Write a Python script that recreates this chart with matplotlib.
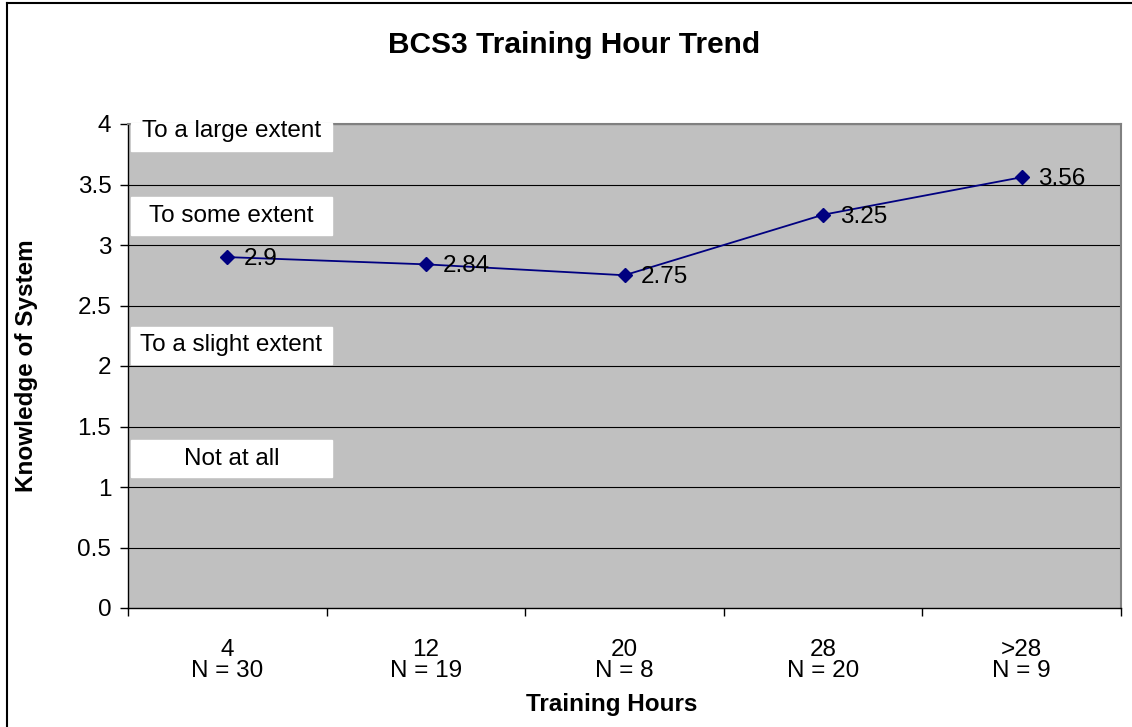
import matplotlib.pyplot as plt
import numpy as np

plt.rcParams['font.family'] = ['Liberation Sans', 'DejaVu Sans']

# Data
hours = ['4', '12', '20', '28', '>28']
counts = [30, 19, 8, 20, 9]
knowledge = [2.9, 2.84, 2.75, 3.25, 3.56]
scale_labels = ['To a large extent', 'To some extent', 'To a slight extent', 'Not at all']
scale_boxes = [(3.78, 4.1), (3.08, 3.40), (2.02, 2.32), (1.08, 1.39)]

W, H = 1132, 727
fs = 17.5
fig = plt.figure(figsize=(W / 100, H / 100), dpi=100)
ax = fig.add_axes([128 / W, 1 - 608 / H, (1121 - 128) / W, (608 - 124) / H])

x = np.arange(len(hours))
ax.set_facecolor('#c0c0c0')
ax.set_xlim(-0.5, len(hours) - 0.5)
ax.set_ylim(0, 4)

# grid
for yv in np.arange(0.5, 4.01, 0.5):
    ax.axhline(yv, color='#000000', lw=0.8, zorder=1)

# scale boxes (drawn over the top spine, like the original)
for lab, (y0, y1) in zip(scale_labels, scale_boxes):
    y1 = min(y1, 4.01)
    ax.axhspan(y0, y1, xmin=0.003, xmax=0.205, color='white', zorder=2.6, clip_on=False)
    ax.text(0.104, (y0 + max(y1, 4.1 if y1 > 4 else y1)) / 2, lab,
            transform=ax.get_yaxis_transform(),
            ha='center', va='center', fontsize=fs, zorder=3)

ax.plot(x, knowledge, color='#000080', lw=1.3, marker='D', markersize=7.5, zorder=4)
for xi, v in zip(x, knowledge):
    ax.annotate(str(v), (xi, v), xytext=(12, -1.5), textcoords='offset points',
                ha='left', va='center', fontsize=fs, zorder=5)

ax.set_yticks(np.arange(0, 4.01, 0.5))
ax.set_yticklabels(['0', '0.5', '1', '1.5', '2', '2.5', '3', '3.5', '4'], fontsize=fs)
ax.set_xticks(np.arange(-0.5, len(hours), 1.0))
ax.set_xticklabels([])
ax.set_xticks(x, minor=True)
ax.set_xticklabels([f'{h}\nN = {n}' for h, n in zip(hours, counts)], minor=True, fontsize=fs,
                   linespacing=0.95)
ax.tick_params(axis='x', which='major', direction='out', length=6, width=1, color='black')
ax.tick_params(axis='x', which='minor', length=0, pad=22)
ax.tick_params(axis='y', direction='out', length=6, width=1, pad=6)

for s in ['top', 'right']:
    ax.spines[s].set_color('#808080')
    ax.spines[s].set_linewidth(1.5)
for s in ['left', 'bottom']:
    ax.spines[s].set_color('black')
    ax.spines[s].set_linewidth(1)

fig.text(574 / W, 1 - 45 / H, 'BCS3 Training Hour Trend', ha='center', va='center',
         fontsize=21.5, fontweight='bold')
fig.text(612 / W, 1 - 705 / H, 'Training Hours', ha='center', va='center',
         fontsize=fs, fontweight='bold')
fig.text(27 / W, 1 - 366 / H, 'Knowledge of System', ha='center', va='center',
         fontsize=fs, fontweight='bold', rotation=90)

# outer chart border
fig.add_artist(plt.Line2D([7 / W, 7 / W], [0, 1 - 3 / H], color='black', lw=1.5,
                          transform=fig.transFigure))
fig.add_artist(plt.Line2D([7 / W, 1], [1 - 3 / H, 1 - 3 / H], color='black', lw=1.5,
                          transform=fig.transFigure))

fig.savefig('out.png', dpi=100)
